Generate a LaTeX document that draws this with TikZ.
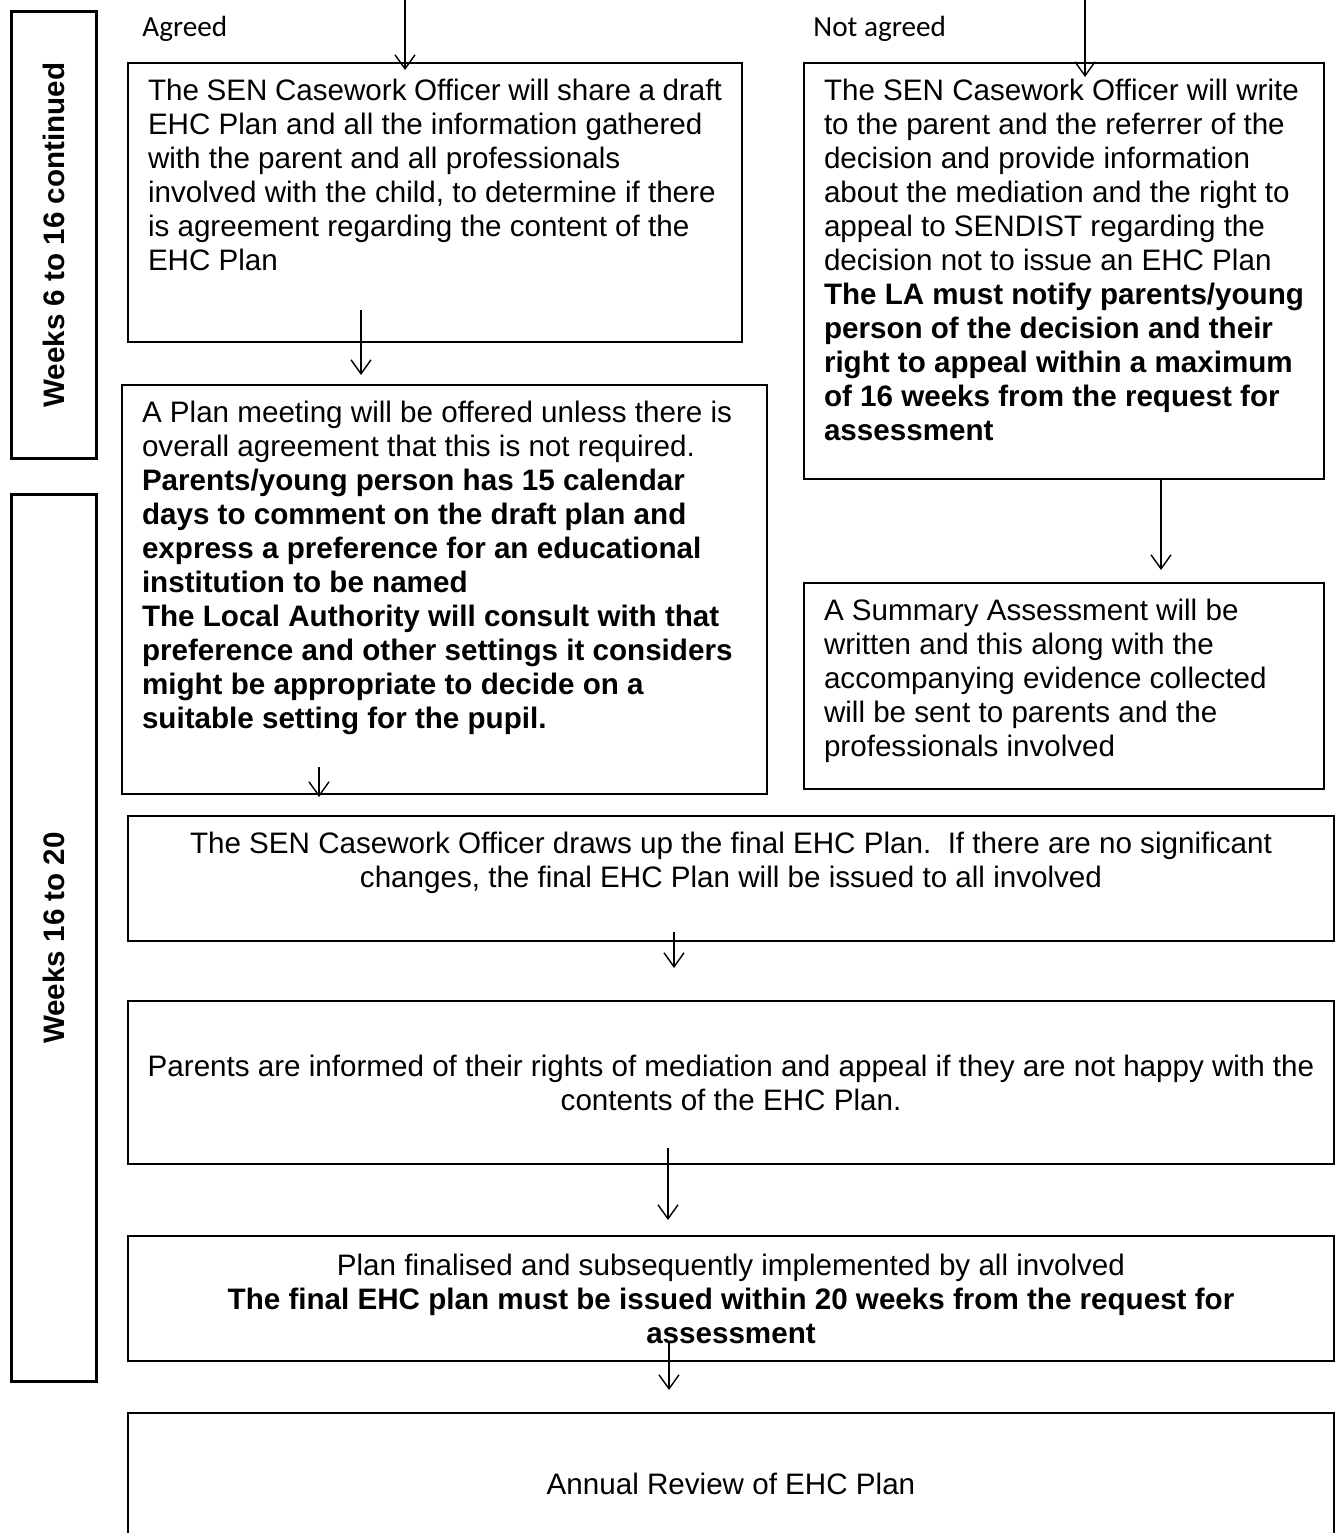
\documentclass[tikz,border=0pt]{standalone}
\usepackage{fontspec}
\setmainfont{Liberation Sans}
\newfontfamily\labelfont{Carlito}
\usetikzlibrary{arrows.meta}

\tikzset{
  stage/.style={draw, line width=1pt, inner xsep=10pt, inner ysep=0pt, anchor=north west},
  wide/.style={stage, inner xsep=1pt, minimum width=603pt, text width=600pt, align=flush center},
  weeks/.style={draw, line width=1.5pt, inner sep=0pt, anchor=north west, minimum width=42.5pt},
  flow/.style={-{Straight Barb[length=7pt,width=10pt]}, line width=0.7pt},
}
% top aligned text inside a box of fixed size
\newcommand{\toptext}[3]{\parbox[c][#2][t]{#1}{\vspace*{8pt}#3}}

\begin{document}
\begin{tikzpicture}[x=0.5pt,y=-0.5pt,font=\fontsize{14.8}{17}\selectfont]
 \clip (0,0) rectangle (1336,1533);

 % time bars
 \node[weeks, minimum height=223.5pt,
   label={[rotate=90,font=\fontsize{14.8}{17}\bfseries]center:Weeks 6 to 16 continued}] (wk1) at (10,10) {};
 \node[weeks, minimum height=443.5pt,
   label={[rotate=90,font=\fontsize{14.8}{17}\bfseries]center:Weeks 16 to 20}] (wk2) at (10,493) {};

 \node[anchor=west, inner sep=0pt, font=\labelfont\fontsize{14.6}{16}\selectfont] (agreed) at (142,29) {Agreed};
 \node[anchor=west, inner sep=0pt, font=\labelfont\fontsize{14.6}{16}\selectfont] (notagreed) at (813,29) {Not agreed};

 % left branch
 \node[stage] (a1) at (127,62) {\toptext{287pt}{139.5pt}{\raggedright
   The SEN Casework Officer will share a draft\\
   EHC Plan and all the information gathered\\
   with the parent and all professionals\\
   involved with the child, to determine if there\\
   is agreement regarding the content of the\\
   EHC Plan}};
 \node[stage] (a2) at (121,384) {\toptext{302.5pt}{204.5pt}{\raggedright
   A Plan meeting will be offered unless there is\\
   overall agreement that this is not required.\\
   {\bfseries Parents/young person has 15 calendar\\
   days to comment on the draft plan and\\
   express a preference for an educational\\
   institution to be named\\
   The Local Authority will consult with that\\
   preference and other settings it considers\\
   might be appropriate to decide on a\\
   suitable setting for the pupil.}}};

 % right branch
 \node[stage] (r1) at (803,62) {\toptext{240pt}{208pt}{\raggedright
   The SEN Casework Officer will write\\
   to the parent and the referrer of the\\
   decision and provide information\\
   about the mediation and the right to\\
   appeal to SENDIST regarding the\\
   decision not to issue an EHC Plan\\
   {\bfseries The LA must notify parents/young\\
   person of the decision and their\\
   right to appeal within a maximum\\
   of 16 weeks from the request for\\
   assessment}}};
 \node[stage] (r2) at (803,582) {\toptext{240pt}{103pt}{\raggedright
   A Summary Assessment will be\\
   written and this along with the\\
   accompanying evidence collected\\
   will be sent to parents and the\\
   professionals involved}};

 % final steps
 \node[stage] (f1) at (127,815) {\toptext{583pt}{62.5pt}{\centering
   The SEN Casework Officer draws up the final EHC Plan.\ \ If there are no significant\\
   changes, the final EHC Plan will be issued to all involved}};
 \node[wide, minimum height=81.5pt] (f2) at (127,1000)
   {Parents are informed of their rights of mediation and appeal if they are not happy with the\\
   contents of the EHC Plan.};
 \node[wide, minimum height=62.5pt] (f3) at (127,1235)
   {Plan finalised and subsequently implemented by all involved\\
   \textbf{The final EHC plan must be issued within 20 weeks from the request for}\\
   \textbf{assessment}};
 \node[wide, minimum height=71pt] (f4) at (127,1412)
   {Annual Review of EHC Plan};

 % arrows
 \coordinate (inA) at (405,0);
 \coordinate (inR) at (1085,0);
 \draw[flow] (inA) -- ([yshift=-4pt]inA |- a1.north);
 \draw[flow] (inR) -- ([yshift=-7.5pt]inR |- r1.north);
 \draw[flow] ([xshift=-37pt,yshift=16.5pt]a1.south) -- ([xshift=-37pt,yshift=4.5pt]a1.south |- a2.north);
 \draw[flow] ([xshift=48.5pt]r1.south) -- ([xshift=48.5pt,yshift=6pt]r1.south |- r2.north);
 \draw[flow] ([xshift=-62.75pt,yshift=14pt]a2.south) -- ([xshift=-62.75pt,yshift=9pt]a2.south |- f1.north);
 \draw[flow] ([xshift=-28.5pt,yshift=5pt]f1.south) -- ([xshift=-28.5pt,yshift=16pt]f1.south |- f2.north);
 \draw[flow] ([xshift=-31.5pt,yshift=8.5pt]f2.south) -- ([xshift=-31.5pt,yshift=7.5pt]f2.south |- f3.north);
 \draw[flow] ([xshift=-31pt,yshift=9.5pt]f3.south) -- ([xshift=-31pt,yshift=11pt]f3.south |- f4.north);
\end{tikzpicture}
\end{document}
